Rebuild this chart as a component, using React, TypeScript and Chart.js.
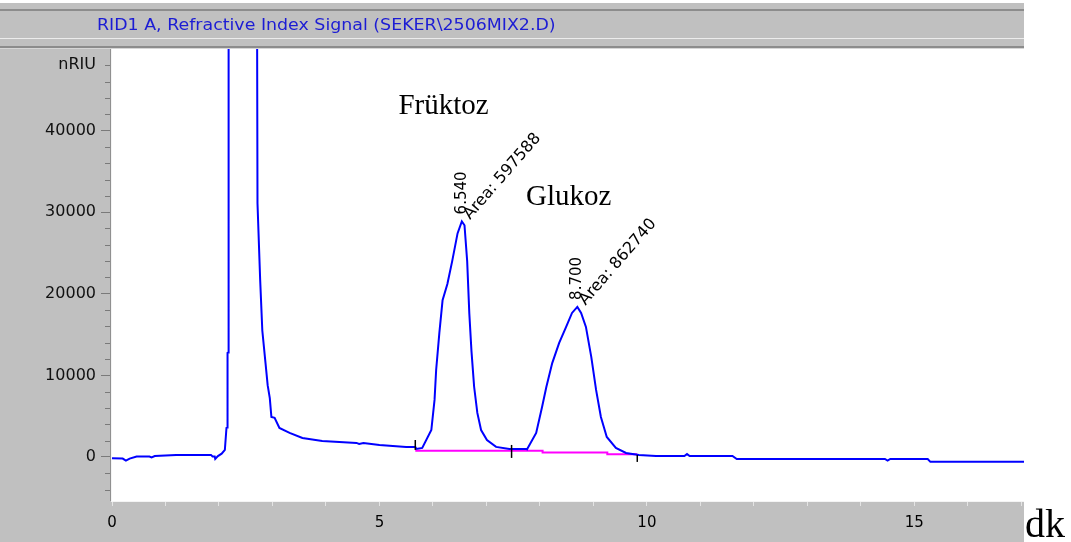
import React, { useEffect, useRef } from 'react';
import { Chart, registerables } from 'chart.js';

Chart.register(...registerables);

// ---- Data ----
const retentionTimes = [
  0.0, 0.2, 0.26, 0.33, 0.46, 0.7, 0.74, 0.8, 1.2, 1.85, 1.88, 1.92, 1.93, 1.98, 2.05, 2.11, 2.14, 2.155, 2.16, 2.175,
  2.18, 2.45, 2.71, 2.72, 2.77, 2.81, 2.87, 2.91, 2.95, 2.98, 3.04, 3.13, 3.32, 3.56, 3.93, 4.57, 4.62, 4.7, 5.0, 5.5, 5.67,
  5.69, 5.8, 5.97, 6.03, 6.06, 6.12, 6.18, 6.27, 6.36, 6.46, 6.54, 6.59, 6.64, 6.68, 6.72, 6.77, 6.83, 6.9, 7.01, 7.18, 7.43, 7.75,
  7.76, 7.93, 8.04, 8.12, 8.23, 8.36, 8.49, 8.6, 8.7, 8.77, 8.86, 8.96, 9.05, 9.14, 9.25, 9.42, 9.61, 9.85, 10.17,
  10.7, 10.75, 10.8, 11.6, 11.68, 14.45, 14.5, 14.55, 15.25, 15.3, 17.05,
];
const signalValues = [
  -150, -200, -450, -200, 50, 50, -50, 120, 250, 250, 50, 50, -250, 100, 400, 860, 3560, 3600, 12750, 12800,
  60000, 80000, 60000, 31100, 21700, 15500, 11500, 8800, 7200, 4900, 4800, 3550, 2950, 2330, 1960, 1720, 1600, 1720, 1470, 1230, 1230,
  980, 1100, 3300, 6990, 10660, 15200, 19200, 21200, 24000, 27400, 28870, 28400, 24000, 17600, 13000, 8600, 5400, 3300, 2080, 1230, 980, 980,
  930, 2940, 6130, 8580, 11500, 13970, 15940, 17650, 18390, 17650, 15940, 12260, 8210, 4900, 2450, 1100, 490, 250, 120,
  120, 350, 120, 120, -250, -250, -450, -250, -250, -600, -600,
];

// integration baseline (magenta)
const baselineTimes = [5.67, 8.05, 8.05, 9.26, 9.26, 9.82];
const baselineValues = [770, 770, 530, 530, 330, 330];

// integration event marks (short black ticks)
const eventTimes = [5.67, 7.47, 9.82];
const eventTops = [2080, 1470, 245];
const eventBottoms = [860, -120, -610];

// peak annotations
const peakTimes = [6.54, 8.7];
const peakHeights = [28870, 18390];
const peakRtLabels = ['6.540', '8.700'];
const peakAreaLabels = ['Area: 597588', 'Area: 862740'];

// compound names
const compoundNames = ['Früktoz', 'Glukoz'];
const compoundX = [5.355, 7.74];
const compoundY = [42050, 30900];

// axes
const xTickValues = [0, 1, 2, 3, 4, 5, 6, 7, 8, 9, 10, 11, 12, 13, 14, 15, 16, 17];
const yTickValues = [-4000, -2000, 0, 2000, 4000, 6000, 8000, 10000, 12000, 14000, 16000, 18000, 20000, 22000, 24000,
  26000, 28000, 30000, 32000, 34000, 36000, 38000, 40000, 42000, 44000, 46000, 48000, 50000];
const yUnitLabel = 'nRIU';
const yUnitAt = 48000;
const xUnitLabel = 'dk';
const titleText = 'RID1 A, Refractive Index Signal (SEKER\\2506MIX2.D)';

const W = 1071;
const H = 542;
const GRAY = '#c0c0c0';

const framePlugin = {
  id: 'frame',
  beforeDraw(chart: any) {
    const { ctx, chartArea } = chart;
    ctx.save();
    ctx.fillStyle = '#ffffff';
    ctx.fillRect(0, 0, W, H);
    const r = chartArea.right;
    // top band
    ctx.fillStyle = GRAY;
    ctx.fillRect(0, 3, r, 46);
    ctx.fillStyle = '#8c8c8c';
    ctx.fillRect(0, 9, r, 2);
    ctx.fillStyle = '#ececec';
    ctx.fillRect(0, 38, r, 1);
    ctx.fillStyle = '#8c8c8c';
    ctx.fillRect(0, 46, r, 2);
    ctx.fillStyle = '#d6d6d6';
    ctx.fillRect(0, 48, r, 1);
    // left panel and bottom panel
    ctx.fillStyle = GRAY;
    ctx.fillRect(0, chartArea.top, chartArea.left, H - chartArea.top);
    ctx.fillRect(0, chartArea.bottom, r, H - chartArea.bottom);
    ctx.restore();
  },
  afterDraw(chart: any) {
    const { ctx, chartArea, scales } = chart;
    const xs = scales.x;
    const ys = scales.y;
    ctx.save();
    // axis edges
    ctx.fillStyle = '#909090';
    ctx.fillRect(chartArea.left - 2, chartArea.top, 1, chartArea.bottom - chartArea.top);
    ctx.fillStyle = '#f4f4f4';
    ctx.fillRect(chartArea.left - 1, chartArea.top, 1, chartArea.bottom - chartArea.top + 1);
    ctx.fillRect(chartArea.left - 1, chartArea.bottom, chartArea.right - chartArea.left + 1, 1);
    // minor y ticks
    ctx.fillStyle = '#7a7a7a';
    yTickValues.forEach((v) => {
      if (v % 10000 === 0) return;
      const py = Math.round(ys.getPixelForValue(v));
      ctx.fillRect(chartArea.left - 7, py, 5, 1);
    });
    // title (horizontally widened like the original bitmap font)
    ctx.save();
    ctx.fillStyle = '#1c1cd4';
    ctx.font = '15px "DejaVu Sans"';
    ctx.textAlign = 'left';
    ctx.textBaseline = 'alphabetic';
    ctx.translate(97, 30);
    ctx.scale(1.16, 1);
    ctx.fillText(titleText, 0, 0);
    ctx.restore();

    // compound names
    ctx.fillStyle = '#000';
    ctx.font = '29px "Liberation Serif"';
    ctx.textAlign = 'left';
    ctx.textBaseline = 'alphabetic';
    compoundNames.forEach((n, i) => {
      ctx.fillText(n, xs.getPixelForValue(compoundX[i]), ys.getPixelForValue(compoundY[i]));
    });

    // peak labels
    peakTimes.forEach((t, i) => {
      const px = xs.getPixelForValue(t);
      const py = ys.getPixelForValue(peakHeights[i]);
      ctx.save();
      ctx.font = '15px "DejaVu Sans"';
      ctx.translate(px, py - 7);
      ctx.rotate(-Math.PI / 2);
      ctx.textAlign = 'left';
      ctx.textBaseline = 'middle';
      ctx.fillText(peakRtLabels[i], 0, 0);
      ctx.restore();
      ctx.save();
      ctx.font = '16px "DejaVu Sans"';
      ctx.translate(px + 5, py - 4);
      ctx.rotate((-49 * Math.PI) / 180);
      ctx.textAlign = 'left';
      ctx.textBaseline = 'middle';
      ctx.fillText(peakAreaLabels[i], 0, 0);
      ctx.restore();
    });

    // x unit
    ctx.font = '40px "Liberation Serif"';
    ctx.textAlign = 'left';
    ctx.textBaseline = 'alphabetic';
    ctx.fillText(xUnitLabel, chartArea.right + 1, H - 5);
    ctx.restore();
  },
};

export default function App() {
  const ref = useRef<HTMLCanvasElement | null>(null);
  useEffect(() => {
    if (!ref.current) return;
    const trace = retentionTimes.map((t, i) => ({ x: t, y: signalValues[i] }));
    const base = baselineTimes.map((t, i) => ({ x: t, y: baselineValues[i] }));
    const events = eventTimes.map((t, i) => ({
      type: 'line' as const,
      data: [{ x: t, y: eventBottoms[i] }, { x: t, y: eventTops[i] }],
      borderColor: '#000000',
      borderWidth: 1.5,
      pointRadius: 0,
    }));
    const chart = new Chart(ref.current, {
      type: 'line',
      data: {
        datasets: [
          { data: base, borderColor: '#ff00ff', borderWidth: 2, pointRadius: 0, tension: 0, order: 2 },
          { data: trace, borderColor: '#0000ff', borderWidth: 2, pointRadius: 0, tension: 0, order: 1 },
          ...events,
        ] as any,
      },
      options: {
        animation: false,
        responsive: false,
        events: [],
        layout: { padding: { top: 49, right: 47, left: 0, bottom: 0 } },
        plugins: { legend: { display: false }, tooltip: { enabled: false }, title: { display: false } },
        scales: {
          x: {
            type: 'linear',
            min: 0,
            max: 17.05,
            afterBuildTicks: (s: any) => {
              s.ticks = xTickValues.map((v) => ({ value: v }));
            },
            afterFit: (s: any) => {
              s.height = 41;
            },
            ticks: {
              autoSkip: false,
              maxRotation: 0,
              padding: 8,
              color: '#000',
              font: { family: 'DejaVu Sans', size: 15 },
              callback: (v: any) => (Number(v) % 5 === 0 ? String(v) : ''),
            },
            grid: { drawOnChartArea: false, tickLength: 5, tickColor: '#e4e4e4', tickWidth: 1 },
            border: { display: false },
          },
          y: {
            type: 'linear',
            min: -5400,
            max: 50000,
            afterBuildTicks: (s: any) => {
              s.ticks = yTickValues.map((v) => ({ value: v }));
            },
            afterFit: (s: any) => {
              s.width = 112;
            },
            ticks: {
              autoSkip: false,
              padding: 5,
              color: '#111',
              font: { family: 'DejaVu Sans', size: 16 },
              callback: (v: any) => {
                const n = Number(v);
                if (n === yUnitAt) return yUnitLabel;
                return n % 10000 === 0 && n !== 50000 ? String(n) : '';
              },
            },
            grid: {
              drawOnChartArea: false,
              tickLength: 11,
              tickWidth: 1,
              tickColor: (c: any) => (c.tick && c.tick.value % 10000 === 0 && c.tick.value !== 50000 ? '#7a7a7a' : 'rgba(0,0,0,0)'),
            },
            border: { display: false },
          },
        },
      },
      plugins: [framePlugin],
    });
    return () => chart.destroy();
  }, []);
  return (
    <div style={{ position: 'fixed', left: 0, top: 0, width: W, height: H, background: '#fff' }}>
      <canvas ref={ref} width={W} height={H} style={{ width: W, height: H, display: 'block' }} />
    </div>
  );
}
